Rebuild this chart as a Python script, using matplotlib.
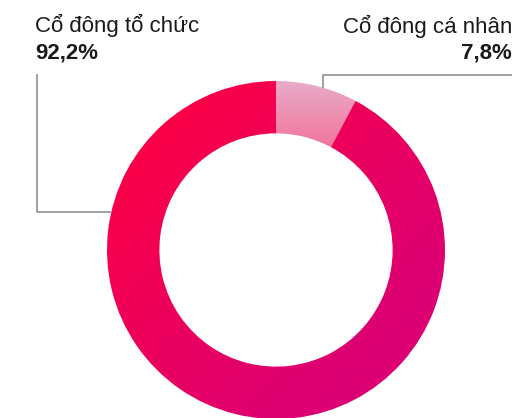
import numpy as np
import matplotlib.pyplot as plt
from matplotlib.colors import to_rgb

plt.rcParams['font.family'] = ['Liberation Sans', 'DejaVu Sans']

labels = ["Cổ đông cá nhân", "Cổ đông tổ chức"]
shares = [7.8, 92.2]
share_text = ["7,8%", "92,2%"]

W, H = 517, 418
fig = plt.figure(figsize=(W / 100, H / 100), dpi=100)
ax = fig.add_axes([0, 0, 1, 1])

# donut geometry in pixel units (y measured upward)
cx, cy, R = 276, H - 250, 169
ring = 0.31 * R

wedges, _ = ax.pie(shares, startangle=90, counterclock=False, radius=R,
                   center=(cx, cy), colors=["none", "none"],
                   wedgeprops=dict(width=ring, linewidth=0, edgecolor="none"))

n = 300
xs = np.linspace(cx - R, cx + R, n)
ys = np.linspace(cy + R, cy - R, n)  # top row first
gx, gy = np.meshgrid(xs, ys)


def blend(c0, c1, t):
    c0, c1 = np.array(to_rgb(c0)), np.array(to_rgb(c1))
    t = np.clip(t, 0, 1)[..., None]
    return c0 * (1 - t) + c1 * t


# small slice: vertical light-pink gradient
t_small = ((cy + R) - gy) / (ring * 1.3)
img_small = blend("#e9abc9", "#f27299", t_small)
# main slice: diagonal red -> magenta gradient
t_main = ((gx - (cx - R)) + ((cy + R) - gy)) / (4 * R)
img_main = blend("#ff003f", "#dc0074", t_main * 1.35 - 0.05)

for img, w in [(img_small, wedges[0]), (img_main, wedges[1])]:
    im = ax.imshow(img, extent=(cx - R, cx + R, cy - R, cy + R),
                   interpolation="bilinear", zorder=1)
    im.set_clip_path(w)

# leader lines
line_kw = dict(color="#8c8783", linewidth=1.1, zorder=2, solid_capstyle="butt")
ly = H - 212
lx = cx - np.sqrt(R ** 2 - (ly - cy) ** 2)
ax.plot([37, 37, lx], [H - 74, ly, ly], **line_kw)
rx = 323
ry = cy + np.sqrt(R ** 2 - (rx - cx) ** 2)
ax.plot([512, rx, rx], [H - 75, H - 75, ry], **line_kw)

# labels
ax.text(35, H - 32, labels[1], fontsize=16, color="#1a1a1a", ha="left", va="baseline")
ax.text(35, H - 58, share_text[1], fontsize=16, fontweight="bold", color="#1a1a1a",
        ha="left", va="baseline")
ax.text(512, H - 33, labels[0], fontsize=16, color="#1a1a1a", ha="right", va="baseline")
ax.text(512, H - 58, share_text[0], fontsize=16, fontweight="bold", color="#1a1a1a",
        ha="right", va="baseline")

ax.set_xlim(0, W)
ax.set_ylim(0, H)
ax.set_aspect("auto")
ax.axis("off")

fig.savefig("out.png", dpi=100)
